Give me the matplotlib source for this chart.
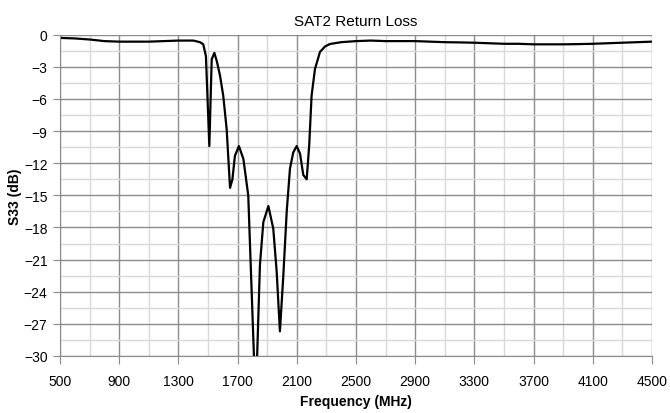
import numpy as np
import matplotlib.pyplot as plt

# S33 return loss
freq = [500, 600, 700, 800, 900, 1000, 1100, 1200, 1300, 1400, 1446, 1468,
        1486, 1509, 1525, 1543, 1560, 1581, 1603, 1626, 1649, 1665, 1682,
        1709, 1739, 1772, 1822, 1851, 1874, 1908, 1941, 1964, 1986, 2009,
        2032, 2054, 2076, 2099, 2122, 2144, 2167, 2184, 2200, 2223, 2257,
        2291, 2324, 2400, 2500, 2600, 2700, 2800, 2900, 3000, 3100, 3200,
        3300, 3400, 3500, 3600, 3700, 3800, 3900, 4000, 4100, 4200, 4300,
        4400, 4500]
s33 = [-0.3, -0.35, -0.45, -0.6, -0.65, -0.65, -0.65, -0.6, -0.55, -0.55,
       -0.7, -0.9, -2.0, -10.4, -2.3, -1.7, -2.5, -3.8, -5.7, -8.8, -14.3,
       -13.5, -11.3, -10.4, -11.6, -15.0, -34.5, -21.5, -17.5, -16.0, -18.1,
       -22.1, -27.7, -22.5, -16.5, -12.5, -11.0, -10.4, -11.1, -13.1, -13.5,
       -10.3, -5.7, -3.2, -1.6, -1.1, -0.87, -0.7, -0.6, -0.55, -0.6, -0.6,
       -0.6, -0.65, -0.7, -0.72, -0.75, -0.8, -0.85, -0.85, -0.9, -0.9, -0.9,
       -0.88, -0.85, -0.8, -0.75, -0.7, -0.65]

xticks = np.arange(500, 4501, 400)
xminor = np.arange(700, 4500, 400)
yticks = np.arange(-30, 1, 3)
yminor = np.arange(-28.5, 0, 3)

fig = plt.figure(figsize=(6.7, 4.14), dpi=100)
ax = fig.add_axes([0.0896, 0.1377, 0.8834, 0.7761])

ax.plot(freq, s33, color='black', lw=1.6)

ax.set_xlim(500, 4500)
ax.set_ylim(-30, 0)
ax.set_xticks(xticks)
ax.set_xticks(xminor, minor=True)
ax.set_yticks(yticks)
ax.set_yticks(yminor, minor=True)

ax.grid(which='major', color='#8c8c8c', lw=1.0)
ax.grid(which='minor', color='#d9d9d9', lw=1.0)
ax.set_axisbelow(True)

for side in ['top', 'right']:
    ax.spines[side].set_visible(False)
for side in ['left', 'bottom']:
    ax.spines[side].set_color('#8c8c8c')

ax.tick_params(which='major', direction='out', color='#8c8c8c', labelsize=10)
ax.tick_params(axis='x', which='major', length=6, pad=7)
ax.tick_params(axis='y', which='major', length=5, pad=4)
ax.tick_params(which='minor', length=0)
for lab in ax.get_xticklabels() + ax.get_yticklabels():
    lab.set_family(['Liberation Sans', 'DejaVu Sans'])

narrow = ['Liberation Sans Narrow', 'Liberation Sans', 'DejaVu Sans']
ax.set_title('SAT2 Return Loss', fontsize=11, family=narrow, pad=7)
ax.set_xlabel('Frequency (MHz)', fontsize=10, fontweight='bold',
              family=narrow, labelpad=4)
ax.set_ylabel('S33 (dB)', fontsize=10, fontweight='bold',
              family=narrow, labelpad=1)

plt.savefig('out.png', dpi=100)
